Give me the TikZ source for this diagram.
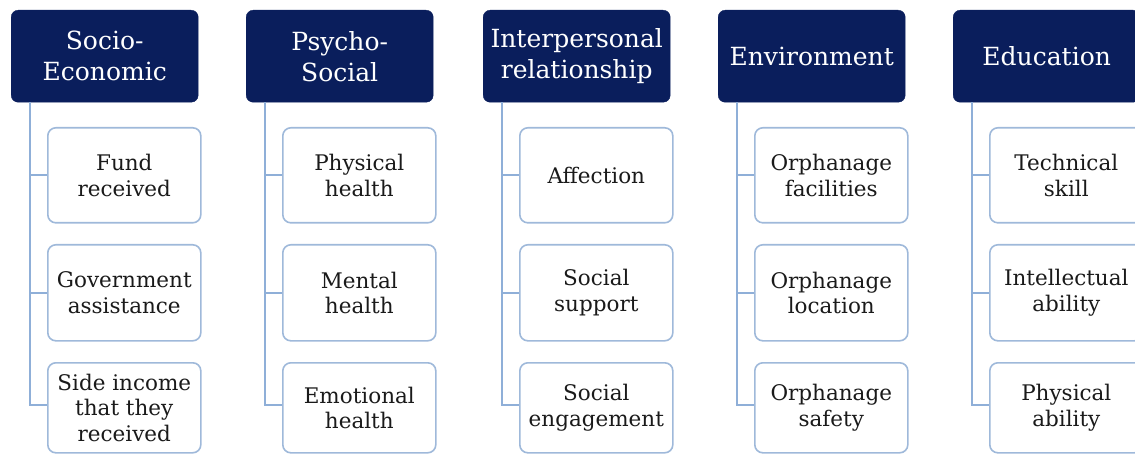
\documentclass[tikz,border=0pt]{standalone}
\usepackage{fontspec}
\setmainfont{DejaVu Serif}
\definecolor{navy}{HTML}{0A1E5C}
\definecolor{boxline}{HTML}{9FB9DA}
\definecolor{treeline}{HTML}{8FAFD8}
\definecolor{itemtext}{HTML}{1A1A1A}
\tikzset{
  header/.style={draw=navy, fill=navy, rounded corners=7pt, text=white,
    minimum width=187pt, minimum height=92pt, anchor=north west,
    align=center, inner sep=0pt, font=\fontsize{25}{31}\selectfont},
  item/.style={draw=boxline, line width=1.6pt, fill=white, rounded corners=8pt,
    text=itemtext, minimum width=153pt, anchor=north west,
    align=center, inner sep=0pt, font=\fontsize{21.5}{25.5}\selectfont},
  branch/.style={draw=treeline, line width=1.8pt},
}
\begin{document}
\begin{tikzpicture}[x=1pt, y=-1pt]
\useasboundingbox (0,0) rectangle (1135,454);
\begin{scope}
\clip (0,0) rectangle (1135,454);

% one column: header, three items, and the tree line joining them
% #1 name, #2 left x, #3 header text, #4 #5 #6 item texts
\newcommand{\branchcolumn}[6]{%
  \node[header] (#1h) at (#2,10) {#3};
  \coordinate (#1t) at ([xshift=19pt]#1h.south west);
  \node[item, minimum height=95pt] (#1a) at (#2+36,127) {#4};
  \node[item, minimum height=96pt] (#1b) at (#2+36,244) {#5};
  \node[item, minimum height=90pt] (#1c) at (#2+36,362) {#6};
  \draw[branch] (#1t) |- ([yshift=3pt]#1c.west);
  \draw[branch] (#1t |- #1a.west) -- (#1a.west);
  \draw[branch] (#1t |- #1b.west) -- (#1b.west);
}

\branchcolumn{se}{11}{Socio-\\Economic}{Fund\\received}{Government\\assistance}{Side income\\that they\\received}
\branchcolumn{ps}{246}{Psycho-\\Social}{Physical\\health}{Mental\\health}{Emotional\\health}
\branchcolumn{ir}{483}{Interpersonal\\relationship}{Affection}{Social\\support}{Social\\engagement}
\branchcolumn{en}{718}{Environment}{Orphanage\\facilities}{Orphanage\\location}{Orphanage\\safety}
\branchcolumn{ed}{953}{Education}{Technical\\skill}{Intellectual\\ability}{Physical\\ability}
\end{scope}
\end{tikzpicture}
\end{document}
